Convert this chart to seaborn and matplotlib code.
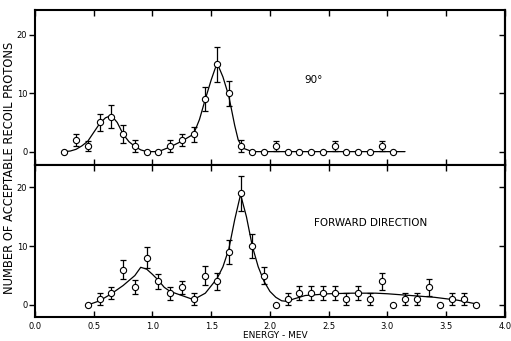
import numpy as np
import matplotlib
matplotlib.use("Agg")
import matplotlib.pyplot as plt
import seaborn as sns

sns.set_style("ticks")
plt.rcParams['font.family'] = ['DejaVu Sans']
plt.rcParams['text.color'] = 'black'
plt.rcParams['xtick.color'] = 'black'
plt.rcParams['ytick.color'] = 'black'
plt.rcParams['axes.edgecolor'] = 'black'

# 90 degree data
top_energy = [0.25, 0.35, 0.45, 0.55, 0.65, 0.75, 0.85, 0.95, 1.05, 1.15,
              1.25, 1.35, 1.45, 1.55, 1.65, 1.75, 1.85, 1.95, 2.05, 2.15,
              2.25, 2.35, 2.45, 2.55, 2.65, 2.75, 2.85, 2.95, 3.05]
top_counts = [0, 2, 1, 5, 6, 3, 1, 0, 0, 1,
              2, 3, 9, 15, 10, 1, 0, 0, 1, 0,
              0, 0, 0, 1, 0, 0, 0, 1, 0]
top_err = [0, 1.1, 0.9, 1.5, 2.0, 1.5, 1.0, 0, 0, 1.0,
           1.1, 1.3, 2.1, 3.0, 2.1, 1.0, 0, 0, 0.9, 0,
           0, 0, 0, 0.9, 0, 0, 0, 0.9, 0]
top_curve_x = [0.25, 0.3, 0.35, 0.4, 0.45, 0.5, 0.55, 0.6, 0.65, 0.7,
               0.75, 0.8, 0.85, 0.9, 0.95, 1.05, 1.15, 1.25, 1.35, 1.4,
               1.45, 1.5, 1.55, 1.6, 1.65, 1.7, 1.73, 1.77, 1.85, 3.15]
top_curve_y = [0, 0.1, 0.4, 1.0, 1.8, 3.3, 4.8, 5.8, 6.2, 5.0,
               3.0, 1.7, 0.9, 0.3, 0, 0, 0.8, 1.8, 3.0, 5.5,
               9.0, 12.3, 15.2, 12.8, 9.5, 4.5, 2.0, 0.6, 0, 0]

# forward direction data
bot_energy = [0.45, 0.55, 0.65, 0.75, 0.85, 0.95, 1.05, 1.15, 1.25, 1.35,
              1.45, 1.55, 1.65, 1.75, 1.85, 1.95, 2.05, 2.15, 2.25, 2.35,
              2.45, 2.55, 2.65, 2.75, 2.85, 2.95, 3.05, 3.15, 3.25, 3.35,
              3.45, 3.55, 3.65, 3.75]
bot_counts = [0, 1, 2, 6, 3, 8, 4, 2, 3, 1,
              5, 4, 9, 19, 10, 5, 0, 1, 2, 2,
              2, 2, 1, 2, 1, 4, 0, 1, 1, 3,
              0, 1, 1, 0]
bot_err = [0, 1.0, 1.0, 1.6, 1.2, 1.8, 1.3, 1.1, 1.1, 1.0,
           1.6, 1.4, 2.1, 3.0, 2.1, 1.5, 0, 1.0, 1.2, 1.2,
           1.2, 1.2, 1.0, 1.2, 1.0, 1.4, 0, 1.0, 1.0, 1.4,
           0, 1.0, 1.0, 0]
bot_curve_x = [0.45, 0.55, 0.65, 0.75, 0.85, 0.9, 0.95, 1.0, 1.05, 1.1,
               1.15, 1.25, 1.35, 1.45, 1.55, 1.6, 1.65, 1.7, 1.75, 1.8,
               1.85, 1.9, 1.95, 2.0, 2.05, 2.1, 2.15, 2.2, 2.3, 2.5,
               2.7, 2.9, 3.0, 3.2, 3.4, 3.6, 3.75]
bot_curve_y = [0, 0.7, 1.9, 3.3, 5.0, 6.4, 6.1, 5.2, 4.2, 3.0,
               2.3, 1.6, 0.9, 2.0, 4.5, 6.5, 9.5, 14.5, 18.8, 15.0,
               10.0, 6.5, 4.0, 2.3, 1.3, 0.7, 0.6, 1.0, 1.6, 1.9,
               2.0, 2.0, 1.9, 1.6, 1.3, 0.8, 0.2]

x_ticks = [0.0, 0.5, 1.0, 1.5, 2.0, 2.5, 3.0, 3.5, 4.0]
x_ticklabels = ["0.0", "0.5", "1.0", "1.5", "2.0", "2.5", "3.0", "3.5", "4.0"]
y_ticks = [0, 10, 20]


def draw_panel(ax, ex, cnt, err, cx, cy, ylim):
    sns.lineplot(x=cx, y=cy, ax=ax, sort=False, estimator=None,
                 color='black', lw=0.9, zorder=2)
    ex = np.array(ex)
    cnt = np.array(cnt)
    err = np.array(err)
    m = err > 0
    ax.errorbar(ex[m], cnt[m], yerr=err[m], fmt='none', ecolor='black',
                elinewidth=0.9, capsize=2.3, capthick=0.9, zorder=3)
    sns.scatterplot(x=ex, y=cnt, ax=ax, marker='o', s=20, color='white',
                    edgecolor='black', linewidth=0.8, zorder=4)
    ax.set_xlim(0, 4)
    ax.set_ylim(*ylim)
    ax.set_xticks(x_ticks)
    ax.set_yticks(y_ticks)
    ax.tick_params(axis='x', direction='in', top=True, bottom=True,
                   length=4, width=1, labelsize=6, pad=4)
    ax.tick_params(axis='y', direction='out', left=True, right=False,
                   length=4, width=1, labelsize=6, pad=1.5)
    for s in ax.spines.values():
        s.set_visible(True)
        s.set_linewidth(1.5)
        s.set_color('black')
    sec = ax.secondary_yaxis('right')
    sec.set_yticks(y_ticks)
    sec.set_yticklabels([])
    sec.tick_params(direction='in', length=4, width=1, color='black')
    sec.spines['right'].set_linewidth(1.5)
    sec.spines['right'].set_color('black')
    ax.set_xlabel('')
    ax.set_ylabel('')


fig = plt.figure(figsize=(5.11, 3.41), dpi=100)
ax1 = fig.add_axes([0.0685, 0.516, 0.9195, 0.455])
ax2 = fig.add_axes([0.0685, 0.0713, 0.9195, 0.4447])

draw_panel(ax1, top_energy, top_counts, top_err, top_curve_x, top_curve_y, (-2.3, 24.3))
draw_panel(ax2, bot_energy, bot_counts, bot_err, bot_curve_x, bot_curve_y, (-2.0, 23.8))

ax1.set_xticklabels([])
ax2.set_xticklabels(x_ticklabels)

ax1.text(2.37, 12.3, "90°", ha='center', va='center', fontsize=7.5)
ax2.text(2.86, 14.0, "FORWARD DIRECTION", ha='center', va='center', fontsize=7.5)

fig.text(0.538, 0.015, "ENERGY - MEV", ha='center', va='center', fontsize=6.5)
fig.text(0.018, 0.507, "NUMBER OF ACCEPTABLE RECOIL PROTONS", ha='center',
         va='center', rotation=90, fontsize=8.3)

fig.savefig("out.png", dpi=100, facecolor='white')
